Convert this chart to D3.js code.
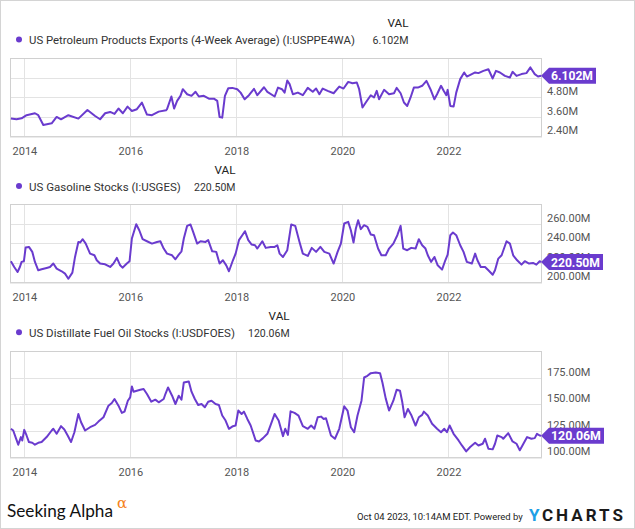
<!DOCTYPE html>
<html><head><meta charset="utf-8">
<script src="https://cdn.jsdelivr.net/npm/d3@7"></script>
<style>html,body{margin:0;padding:0;background:#fff;} svg{display:block;font-family:Roboto,"Noto Sans",sans-serif;}</style>
</head><body><svg id="c" width="635" height="529"></svg>
<script>
// ---------- DATA (decimal years, values in millions) ----------
const yearTicks = [2014, 2016, 2018, 2020, 2022];

const exportsNames = "US Petroleum Products Exports (4-Week Average) (I:USPPE4WA)";
const exportsLast = "6.102M";
const exportsTicks = [2.4, 3.6, 4.8, 6.0];
const exportsDates = [2013.754,2013.861,2013.956,2014.050,2014.208,2014.271,2014.366,2014.524,2014.618,2014.700,2014.839,2015.028,2015.199,2015.344,2015.438,2015.533,2015.628,2015.710,2015.785,2015.868,2015.956,2016.038,2016.132,2016.227,2016.322,2016.416,2016.543,2016.681,2016.700,2016.782,2016.833,2016.890,2016.953,2016.997,2017.079,2017.161,2017.237,2017.300,2017.394,2017.489,2017.584,2017.647,2017.691,2017.741,2017.792,2017.855,2017.931,2018.025,2018.088,2018.164,2018.246,2018.341,2018.404,2018.530,2018.593,
2018.731,2018.794,2018.869,2018.919,2018.969,2019.013,2019.075,2019.169,2019.263,2019.356,2019.450,2019.513,2019.575,2019.638,2019.731,2019.844,2019.950,2020.031,2020.119,2020.200,2020.281,2020.325,2020.388,2020.450,2020.544,2020.606,2020.656,2020.700,2020.794,2020.888,2020.981,2021.031,2021.106,2021.169,2021.231,2021.294,2021.356,2021.431,2021.513,2021.594,2021.669,2021.744,2021.794,2021.869,2021.919,2021.969,2021.994,2022.044,2022.106,2022.156,2022.231,2022.306,2022.356,2022.450,2022.513,2022.575,2022.669,2022.763,2022.844,2022.906,2022.981,2023.075,2023.169,2023.219,2023.294,2023.388,2023.481,2023.556,2023.638,2023.700,2023.757];
const exportsValues = [3.47,3.43,3.49,3.68,3.80,3.68,3.08,3.18,3.57,3.43,3.68,3.47,4.00,3.63,3.43,3.80,3.88,3.76,4.09,3.80,4.21,3.94,4.05,4.46,3.72,3.68,3.90,3.98,4.05,4.83,4.09,4.56,4.87,5.28,4.97,4.87,5.12,4.83,4.87,4.70,4.70,4.56,3.57,3.53,4.87,5.34,5.36,5.28,5.07,4.66,4.91,5.30,4.91,5.40,5.12,
4.83,5.38,5.28,5.07,5.81,5.59,4.97,5.07,4.91,5.36,5.12,5.32,4.97,5.32,5.18,5.03,5.44,5.32,5.73,5.65,5.69,5.28,4.15,4.46,4.91,4.77,5.18,4.66,5.24,4.97,5.03,5.36,5.03,4.46,4.25,4.77,5.38,5.38,5.49,5.79,5.28,4.66,4.97,5.49,5.18,4.91,5.24,4.25,4.21,5.07,5.90,6.31,6.06,6.21,6.31,6.27,6.41,6.51,5.94,6.41,6.31,6.10,6.00,6.35,6.10,6.21,6.27,6.62,6.21,6.06,6.102];

const gasolineName = "US Gasoline Stocks (I:USGES)";
const gasolineLast = "220.50M";
const gasolineTicks = [200, 220, 240, 260];
const gasolineDates = [2013.754,2013.817,2013.880,2013.924,2013.956,2014.000,2014.032,2014.095,2014.158,2014.208,2014.271,2014.334,2014.429,2014.492,2014.555,2014.618,2014.713,2014.776,2014.839,2014.915,2014.965,2015.028,2015.060,2015.110,2015.167,2015.249,2015.331,2015.375,2015.438,2015.533,2015.628,2015.691,2015.754,2015.817,2015.861,2015.943,2015.994,2016.038,2016.120,2016.177,2016.240,2016.322,2016.416,2016.511,2016.574,2016.637,2016.700,2016.795,2016.858,2016.921,2016.972,2017.016,2017.079,2017.142,2017.192,2017.268,2017.331,2017.426,2017.476,2017.552,2017.628,2017.691,2017.754,2017.817,2017.868,2017.943,2017.994,2018.057,2018.120,2018.170,2018.233,2018.297,2018.360,2018.404,2018.498,2018.562,2018.656,
2018.731,2018.781,2018.825,2018.888,2018.969,2019.044,2019.119,2019.200,2019.263,2019.356,2019.431,2019.513,2019.594,2019.669,2019.763,2019.844,2019.919,2019.981,2020.044,2020.119,2020.169,2020.219,2020.263,2020.306,2020.356,2020.419,2020.481,2020.544,2020.606,2020.681,2020.744,2020.825,2020.888,2020.969,2021.044,2021.106,2021.156,2021.231,2021.306,2021.388,2021.450,2021.513,2021.575,2021.619,2021.681,2021.744,2021.806,2021.888,2021.950,2021.994,2022.044,2022.094,2022.156,2022.231,2022.294,2022.356,2022.450,2022.513,2022.556,2022.619,2022.700,2022.763,2022.844,2022.888,2022.950,2023.013,2023.106,2023.169,2023.231,2023.306,2023.388,2023.450,2023.531,2023.606,2023.669,2023.731,2023.757];
const gasolineValues = [221.3,215.4,210.3,215.4,220.6,221.3,235.3,236.0,230.9,220.6,212.0,213.0,214.4,215.4,218.9,213.7,211.0,208.6,203.4,209.6,225.7,241.1,240.5,243.9,239.4,229.1,227.4,222.3,218.9,218.2,215.4,218.9,224.7,217.1,214.7,218.9,221.3,244.6,259.3,253.1,243.9,241.8,239.4,241.1,241.8,234.3,229.1,227.4,223.3,228.1,231.5,244.6,257.6,259.0,251.4,239.4,241.8,241.1,242.9,231.5,230.9,218.9,222.3,217.1,211.0,222.3,229.1,242.9,248.0,252.1,242.9,238.4,237.7,234.3,241.8,235.0,236.0,
236.0,237.7,229.1,225.7,232.6,259.0,257.6,241.1,229.1,226.7,235.0,230.9,236.0,230.9,229.1,218.9,230.9,239.4,260.0,261.7,253.1,240.5,254.9,263.4,254.2,258.3,256.6,248.7,248.0,234.3,227.4,227.4,234.3,239.4,248.0,257.6,234.3,232.6,235.0,234.3,243.9,237.7,234.3,227.4,220.6,225.7,217.1,212.7,222.3,228.1,248.0,250.7,248.0,237.7,230.9,220.6,218.9,229.1,222.3,215.4,215.4,212.0,207.5,212.0,224.0,227.4,241.8,239.4,227.4,222.3,217.8,221.3,218.9,219.6,217.8,221.3,220.5];

const distillateName = "US Distillate Fuel Oil Stocks (I:USDFOES)";
const distillateLast = "120.06M";
const distillateTicks = [100, 125, 150, 175];
const distillateDates = [2013.754,2013.798,2013.842,2013.893,2013.943,2013.968,2014.006,2014.050,2014.095,2014.158,2014.208,2014.271,2014.334,2014.429,2014.524,2014.555,2014.618,2014.700,2014.763,2014.826,2014.890,2014.953,2015.028,2015.079,2015.155,2015.249,2015.344,2015.407,2015.502,2015.596,2015.659,2015.710,2015.785,2015.849,2015.899,2015.962,2016.006,2016.038,2016.069,2016.132,2016.196,2016.259,2016.322,2016.404,2016.479,2016.543,2016.637,2016.669,2016.719,2016.795,2016.858,2016.921,2016.972,2017.016,2017.110,2017.161,2017.224,2017.287,2017.350,2017.413,2017.476,2017.539,2017.615,2017.678,2017.741,2017.804,2017.868,2017.943,2017.994,2018.044,2018.107,2018.151,2018.215,2018.278,2018.372,2018.435,2018.511,2018.593,2018.656,
2018.731,2018.806,2018.888,2018.931,2018.981,2019.031,2019.106,2019.181,2019.263,2019.356,2019.419,2019.481,2019.544,2019.606,2019.656,2019.700,2019.794,2019.869,2019.950,2020.044,2020.106,2020.169,2020.231,2020.294,2020.369,2020.419,2020.481,2020.544,2020.638,2020.719,2020.763,2020.825,2020.888,2020.969,2021.031,2021.094,2021.138,2021.181,2021.244,2021.306,2021.388,2021.450,2021.513,2021.544,2021.619,2021.700,2021.794,2021.869,2021.931,2021.981,2022.031,2022.106,2022.200,2022.263,2022.344,2022.419,2022.513,2022.575,2022.656,2022.700,2022.763,2022.844,2022.888,2022.931,2023.013,2023.044,2023.138,2023.219,2023.294,2023.356,2023.406,2023.494,2023.575,2023.638,2023.681,2023.731,2023.757];
const distillateValues = [126.6,125.0,118.8,111.6,118.8,115.6,125.6,120.3,114.1,113.4,111.6,113.4,114.1,118.8,125.0,126.6,121.9,129.1,125.9,120.3,114.1,123.4,140.6,132.8,125.0,128.1,130.3,133.4,137.5,148.4,150.9,154.7,148.4,141.6,142.8,153.1,156.3,166.6,161.6,162.5,163.4,164.1,159.4,152.2,154.1,151.6,154.7,159.4,165.6,157.8,150.0,157.8,154.1,170.3,171.3,161.6,154.7,149.1,150.0,146.9,152.2,153.1,150.0,149.1,139.1,134.4,126.6,129.1,129.7,143.8,140.6,142.8,135.9,129.7,115.6,114.7,117.8,121.9,130.3,
140.6,134.4,119.7,126.6,120.9,143.1,141.6,139.1,129.1,126.6,129.7,126.6,137.5,138.1,135.9,136.6,120.3,117.2,126.6,147.8,143.8,128.1,123.4,139.1,153.1,175.0,176.6,179.1,179.7,179.1,170.3,155.3,143.8,153.1,163.4,162.5,151.6,137.5,145.3,139.7,129.7,137.5,139.7,142.8,139.1,131.3,126.6,123.4,126.6,123.4,129.7,121.9,115.6,110.9,105.3,109.4,113.4,110.9,112.5,117.2,107.8,107.2,112.5,120.3,118.8,117.2,122.5,114.7,112.5,106.3,110.9,118.8,117.2,117.8,121.9,120.3,120.06];

// ---------- DRAW ----------
const purple = "#6a3bce";
const svg = d3.select("#c");
svg.append("rect").attr("width",635).attr("height",529).attr("fill","#fff");
svg.append("rect").attr("x",0.5).attr("y",0.5).attr("width",634).attr("height",528)
  .attr("fill","none").attr("stroke","#d4d4d4");

function toDate(y){
  const Y = Math.floor(y), s = new Date(Y,0,1), e = new Date(Y+1,0,1);
  return new Date(+s + (y - Y) * (e - s));
}
const x = d3.scaleTime().domain([new Date(2013,9,4), new Date(2023,9,4)]).range([11, 541]);
const boxL = 10, boxR = 541;

// shrink font size so the natural width does not exceed w
function fitSize(sel, w){
  const n = sel.node(), fs = +sel.attr("font-size"), len = n.getComputedTextLength();
  if (len > w) sel.attr("font-size", (fs * w / len).toFixed(2));
}
const legendFont = "'Liberation Sans Narrow', Roboto, sans-serif";

const panels = [
  {name: exportsNames, last: exportsLast, ticks: exportsTicks, dates: exportsDates, values: exportsValues,
   dom:[2.4,7.2], top:58, bot:136, fmt: v => d3.format(".2f")(v)+"M",
   valY:27, legY:39.5, nameW:326, valRight:408.5, valW:36, yearY:155, badgeW:55},
  {name: gasolineName, last: gasolineLast, ticks: gasolineTicks, dates: gasolineDates, values: gasolineValues,
   dom:[200,280], top:204, bot:282, fmt: v => d3.format(".2f")(v)+"M",
   valY:174, legY:186, nameW:152, valRight:235.5, valW:41.5, yearY:301, badgeW:62},
  {name: distillateName, last: distillateLast, ticks: distillateTicks, dates: distillateDates, values: distillateValues,
   dom:[100,200], top:351, bot:457, fmt: v => d3.format(".2f")(v)+"M",
   valY:319.5, legY:332.3, nameW:206, valRight:289.6, valW:41.6, yearY:476, badgeW:63}
];

panels.forEach(p => {
  const y = d3.scaleLinear().domain(p.dom).range([p.bot, p.top]);
  const g = svg.append("g");
  // grid
  g.selectAll(".hg").data(p.ticks.filter(t => t > p.dom[0])).join("line")
    .attr("x1",boxL).attr("x2",boxR).attr("y1",d=>Math.round(y(d))+0.5).attr("y2",d=>Math.round(y(d))+0.5)
    .attr("stroke","#e3e3e3");
  g.selectAll(".vg").data(yearTicks).join("line")
    .attr("x1",d=>Math.round(x(new Date(d,0,1)))+0.5).attr("x2",d=>Math.round(x(new Date(d,0,1)))+0.5)
    .attr("y1",p.top).attr("y2",p.bot).attr("stroke","#e3e3e3");
  // box
  g.append("rect").attr("x",boxL+0.5).attr("y",p.top+0.5).attr("width",boxR-boxL).attr("height",p.bot-p.top)
    .attr("fill","none").attr("stroke","#d0d0d0");
  g.append("line").attr("x1",boxL).attr("x2",boxR+1).attr("y1",p.bot+1).attr("y2",p.bot+1)
    .attr("stroke","#d8d8d8").attr("stroke-width",1);
  // line
  const data = p.dates.map((d,i)=>({d: toDate(d), v: p.values[i]})).filter(o => o.v != null);
  g.append("path").datum(data)
    .attr("d", d3.line().x(o=>x(o.d)).y(o=>y(o.v)))
    .attr("fill","none").attr("stroke",purple).attr("stroke-width",2).attr("stroke-linejoin","round");
  // y labels
  g.selectAll(".yl").data(p.ticks).join("text")
    .attr("x",547).attr("y",d=>y(d)-2).attr("font-size",11).attr("fill","#555").text(p.fmt);
  // x labels
  g.selectAll(".xl").data(yearTicks).join("text")
    .attr("x",d=>x(new Date(d,0,1))+1).attr("y",p.yearY).attr("text-anchor","middle")
    .attr("font-size",11).attr("fill","#555").text(d=>d);
  // legend
  g.append("text").attr("x",p.valRight).attr("y",p.valY).attr("text-anchor","end")
    .attr("font-family",legendFont).attr("font-size",13).attr("fill","#222").text("VAL").call(fitSize, 21);
  g.append("circle").attr("cx",19).attr("cy",p.legY).attr("r",3).attr("fill",purple);
  g.append("text").attr("x",29).attr("y",p.legY+4.5).attr("font-family",legendFont).attr("font-size",13)
    .attr("fill","#333").text(p.name).call(fitSize, p.nameW);
  g.append("text").attr("x",p.valRight).attr("y",p.legY+4.5).attr("text-anchor","end")
    .attr("font-family",legendFont).attr("font-size",13).attr("fill","#333")
    .text(p.last).call(fitSize, p.valW);
  // badge
  const lastV = p.values[p.values.length-1];
  const cy = y(lastV), h = 8, tip = 541, bx = tip + 8, right = tip + p.badgeW;
  g.append("path").attr("d",`M${tip},${cy}L${bx},${cy-h}L${right},${cy-h}L${right},${cy+h}L${bx},${cy+h}Z`)
    .attr("fill",purple);
  g.append("text").attr("x",bx+2).attr("y",cy+4.5).attr("font-size",12.5).attr("font-weight","bold")
    .attr("fill","#fff").text(p.last).call(fitSize, right - bx - 5);
});

// footer
svg.append("text").attr("x",7).attr("y",517).attr("font-family","Lato, 'Open Sans', sans-serif")
  .attr("font-size",18).attr("fill","#111").attr("font-weight",400).text("Seeking Alpha").call(fitSize,106);
svg.append("text").attr("x",117).attr("y",508).attr("font-family","'DejaVu Serif', serif")
  .attr("font-size",15).attr("fill","#f58220").text("α");
svg.append("text").attr("x",357).attr("y",519.5).attr("font-family",legendFont).attr("font-size",12).attr("fill","#222")
  .text("Oct 04 2023, 10:14AM EDT.  Powered by").call(fitSize,166);
svg.append("text").attr("x",529).attr("y",521).attr("font-size",17).attr("font-weight","bold")
  .attr("fill","#1ea0e6").text("Y");
svg.append("text").attr("x",542).attr("y",521).attr("font-size",17).attr("font-weight","bold")
  .attr("fill","#1a1a1a").attr("letter-spacing",3).text("CHARTS").call(fitSize,87);
</script></body></html>
